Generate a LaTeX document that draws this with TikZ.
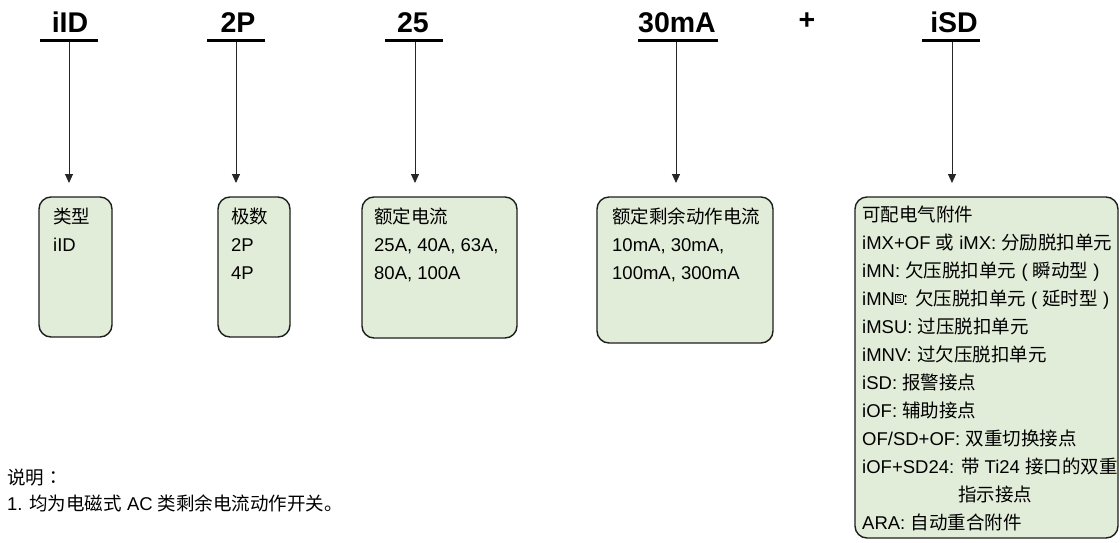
\documentclass[tikz,border=0pt]{standalone}
\usepackage{fontspec}
\setmainfont{Liberation Sans}
\newfontfamily\cjk{Noto Sans CJK SC}
\newfontfamily\cjktc{Noto Sans CJK TC}
\usetikzlibrary{arrows.meta}
\newcommand\zh[1]{{\cjk #1}}
\newcommand\boxS{\raisebox{4.5pt}{\fboxsep=0.8pt\fboxrule=0.5pt\fbox{\fontsize{8}{8}\selectfont S}}}
\definecolor{boxfill}{HTML}{E2EDD9}
\definecolor{boxline}{HTML}{1E1E1E}
\tikzset{
  hdr/.style={font=\fontsize{28.5}{30}\selectfont\bfseries, anchor=base, inner sep=0pt},
  uline/.style={line width=3pt, black},
  arr/.style={draw=black!85, line width=0.9pt, -{Triangle[length=9pt,width=8pt]}, shorten >=14pt},
  box/.style={draw=boxline, line width=1.4pt, fill=boxfill, rounded corners=12pt, anchor=north west, inner sep=0pt, outer sep=0pt},
  boxtxt/.style={anchor=north west, inner sep=0pt, align=left, font=\fontsize{18.5}{28}\selectfont},
  note/.style={anchor=north west, inner sep=0pt, align=left, font=\fontsize{18.5}{26}\selectfont}
}
\begin{document}
\begin{tikzpicture}[x=1pt, y=-1pt]
\useasboundingbox (0,0) rectangle (1120,542);

% headers
\node[hdr] (h1) at (70,32) {iID};
\node[hdr] (h2) at (238,32) {2P};
\node[hdr] (h3) at (413,32) {25};
\node[hdr] (h4) at (677,32) {30mA};
\node[hdr] (hp) at (807,29) {+};
\node[hdr] (h5) at (954,32) {iSD};

\draw[uline] (40,40) -- (98,40);
\draw[uline] (207,40) -- (265,40);
\draw[uline] (385,40) -- (443,40);
\draw[uline] (638,40) -- (718,40);
\draw[uline] (922,40) -- (980,40);

\coordinate (u1) at (69,41.5);
\coordinate (u2) at (236,41.5);
\coordinate (u3) at (415,41.5);
\coordinate (u4) at (676,41.5);
\coordinate (u5) at (952,41.5);

% boxes
\node[box, minimum width=73pt, minimum height=140pt] (b1) at (39,197) {};
\node[box, minimum width=72pt, minimum height=140pt] (b2) at (218,197) {};
\node[box, minimum width=155pt, minimum height=141pt] (b3) at (362,197) {};
\node[box, minimum width=176pt, minimum height=146pt] (b4) at (597,197) {};
\node[box, minimum width=263pt, minimum height=341pt] (b5) at (855,197) {};

% arrows
\draw[arr] (u1) -- (u1 |- b1.north);
\draw[arr] (u2) -- (u2 |- b2.north);
\draw[arr] (u3) -- (u3 |- b3.north);
\draw[arr] (u4) -- (u4 |- b4.north);
\draw[arr] (u5) -- (u5 |- b5.north);

% box texts
\node[boxtxt] (t1) at (53,204) {\strut\zh{类型}\\iID};
\node[boxtxt] (t2) at (231,204) {\strut\zh{极数}\\2P\\4P};
\node[boxtxt] (t3) at (374,204) {\strut\zh{额定电流}\\25A, 40A, 63A,\\80A, 100A};
\node[boxtxt] (t4) at (612,204) {\strut\zh{额定剩余动作电流}\\10mA, 30mA,\\100mA, 300mA};
\node[boxtxt] (t5) at (862,202) {\strut\zh{可配电气附件}\\
iMX+OF \zh{或} iMX: \zh{分励脱扣单元}\\
iMN: \zh{欠压脱扣单元} ( \zh{瞬动型} )\\
iMN\boxS: \zh{欠压脱扣单元} ( \zh{延时型} )\\
iMSU: \zh{过压脱扣单元}\\
iMNV: \zh{过欠压脱扣单元}\\
iSD: \zh{报警接点}\\
iOF: \zh{辅助接点}\\
OF/SD+OF: \zh{双重切换接点}\\
iOF+SD24: \zh{带} Ti24 \zh{接口的双重}\\
\hspace*{96pt}\zh{指示接点}\\
ARA: \zh{自动重合附件}};

% notes
\node[note] (n1) at (7,466) {\strut\zh{说明}{\cjktc ：}\\1. \zh{均为电磁式} AC \zh{类剩余电流动作开关。}};
\end{tikzpicture}
\end{document}
